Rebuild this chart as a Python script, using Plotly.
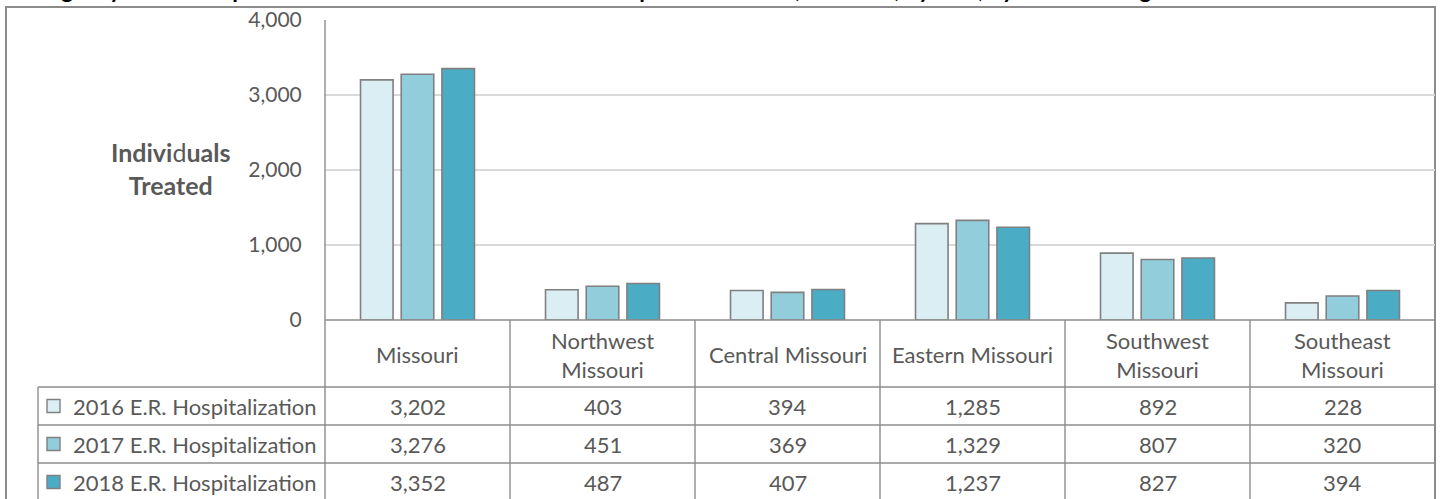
import plotly.graph_objects as go

# ---------------- data ----------------
regions = ["Missouri", "Northwest Missouri", "Central Missouri", "Eastern Missouri",
           "Southwest Missouri", "Southeast Missouri"]
region_labels = ["Missouri", "Northwest<br>Missouri", "Central Missouri", "Eastern Missouri",
                 "Southwest<br>Missouri", "Southeast<br>Missouri"]
series_names = ["2016 E.R. Hospitalization", "2017 E.R. Hospitalization", "2018 E.R. Hospitalization"]
er_2016 = [3202, 403, 394, 1285, 892, 228]
er_2017 = [3276, 451, 369, 1329, 807, 320]
er_2018 = [3352, 487, 407, 1237, 827, 394]
series_values = [er_2016, er_2017, er_2018]
y_ticks = [0, 1000, 2000, 3000, 4000]
title_text = ("Emergency Room Hospitalizations of Individuals Treated for Opioid Overdose, "
              "Missouri, by Year, by Missouri Region")

# ---------------- style ----------------
colors = ["#DAEEF3", "#92CDDC", "#4BACC6"]
edge = "#808080"
grid = "#D9D9D9"
txt = "#595959"
FONT = "Lato, sans-serif"
FS = 22

W, H = 1440, 499
L, R, T, B = 325, 5, 20, 179
PW = W - L - R
PH = H - T - B


def px(x):  # pixel x -> paper
    return (x - L) / PW


def py(y):  # pixel y -> paper
    return (H - B - y) / PH


fig = go.Figure()
for name, vals, col in zip(series_names, series_values, colors):
    fig.add_trace(go.Bar(
        x=regions, y=vals, name=name,
        marker=dict(color=col, line=dict(color=edge, width=1.6)),
        showlegend=False,
    ))

shapes = []
ann = []
line_style = dict(color="#8C8C8C", width=1.4)

# outer chart border
shapes.append(dict(type="rect", xref="paper", yref="paper",
                   x0=px(6), x1=px(1435), y0=py(7), y1=py(520),
                   line=dict(color="#8C8C8C", width=2), fillcolor="rgba(0,0,0,0)", layer="below"))

# table geometry
n = len(regions)
row_y = [320, 387, 425, 463, 501]  # pixel boundaries: category row, 3 data rows
legend_left = 38

# horizontal lines
shapes.append(dict(type="line", xref="paper", yref="paper", x0=0, x1=1, y0=0, y1=0, line=line_style))
for yy in row_y[1:]:
    shapes.append(dict(type="line", xref="paper", yref="paper", x0=px(legend_left), x1=1,
                       y0=py(yy), y1=py(yy), line=line_style))
# vertical lines
shapes.append(dict(type="line", xref="paper", yref="paper", x0=0, x1=0, y0=1, y1=py(520), line=line_style))
for k in range(1, n + 1):
    shapes.append(dict(type="line", xref="paper", yref="paper", x0=k / n, x1=k / n,
                       y0=0, y1=py(520), line=line_style))
shapes.append(dict(type="line", xref="paper", yref="paper", x0=px(legend_left), x1=px(legend_left),
                   y0=py(row_y[1]), y1=py(520), line=line_style))

# category labels
for reg, lab in zip(regions, region_labels):
    ann.append(dict(x=reg, xref="x", y=py((row_y[0] + row_y[1]) / 2 + 1), yref="paper",
                    text=lab, showarrow=False, xanchor="center", yanchor="middle",
                    font=dict(family=FONT, size=FS, color=txt)))

# data rows
for i, (name, vals, col) in enumerate(zip(series_names, series_values, colors)):
    yc = (row_y[i + 1] + row_y[i + 2]) / 2
    shapes.append(dict(type="rect", xref="paper", yref="paper",
                       x0=px(47), x1=px(60), y0=py(yc - 6.5), y1=py(yc + 6.5),
                       fillcolor=col, line=dict(color=edge, width=1.4)))
    ann.append(dict(x=px(71), xref="paper", y=py(yc), yref="paper", text=name,
                    showarrow=False, xanchor="left", yanchor="middle",
                    font=dict(family=FONT, size=FS, color=txt)))
    for reg, v in zip(regions, vals):
        ann.append(dict(x=reg, xref="x", y=py(yc), yref="paper", text=f"{v:,}",
                        showarrow=False, xanchor="center", yanchor="middle",
                        font=dict(family=FONT, size=FS, color=txt)))

# y-axis title
ann.append(dict(x=px(170), xref="paper", y=py(168), yref="paper",
                text="<b>Indivi</b>d<b>uals</b><br><b>Treated</b>",
                showarrow=False, xanchor="center", yanchor="middle",
                font=dict(family=FONT, size=25, color=txt)))

# cropped title (only its lower edge falls inside the picture, as in the source image)
ann.append(dict(x=px(595), xref="paper", y=py(5), yref="paper", text=f"<b>{title_text}</b>",
                showarrow=False, xanchor="center", yanchor="bottom",
                font=dict(family=FONT, size=23, color="#000000")))

fig.update_layout(
    width=W, height=H,
    margin=dict(l=L, r=R, t=T, b=B),
    paper_bgcolor="white", plot_bgcolor="white",
    barmode="group", bargap=0.34, bargroupgap=0.2,
    shapes=shapes, annotations=ann,
    font=dict(family=FONT, size=FS, color=txt),
)
fig.update_xaxes(showticklabels=False, showgrid=False, zeroline=False, showline=False,
                 range=[-0.5, n - 0.5], fixedrange=True)
fig.update_yaxes(range=[0, 4000], tickvals=y_ticks, tickformat=",", showgrid=True,
                 gridcolor=grid, gridwidth=1.5, zeroline=False, showline=False,
                 ticks="outside", ticklen=18, tickcolor="rgba(0,0,0,0)",
                 tickfont=dict(family=FONT, size=21, color=txt), fixedrange=True)

fig.write_html("out.html", config={"displayModeBar": False},
               post_script="document.body.style.margin='0px';")
